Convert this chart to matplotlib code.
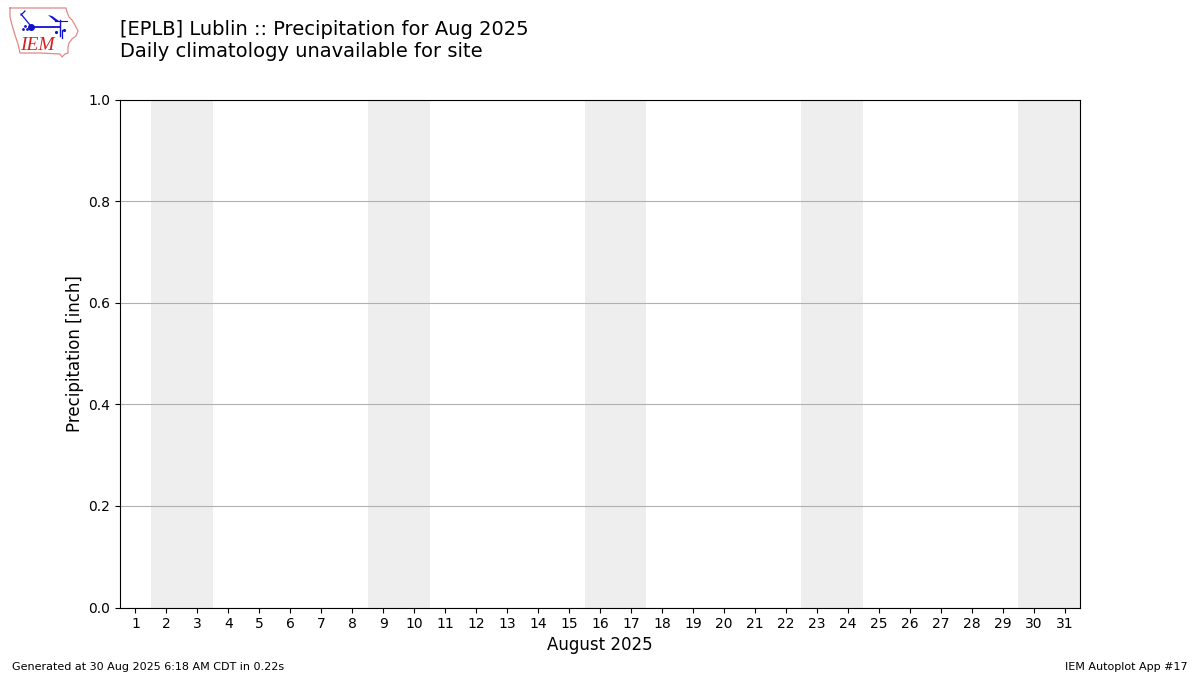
from matplotlib import pyplot as plt
import numpy as np

# --- Chart data ---
days = list(range(1, 32))
weekend_starts = [2, 9, 16, 23, 30]
y_ticks = [0.0, 0.2, 0.4, 0.6, 0.8, 1.0]
title_text = "[EPLB] Lublin :: Precipitation for Aug 2025\nDaily climatology unavailable for site"
footer_left = "Generated at 30 Aug 2025 6:18 AM CDT in 0.22s"
footer_right = "IEM Autoplot App #17"

# --- Logo outline, in pixels of the 130x70 corner ---
logo_state_x = [10, 38, 66, 67, 69, 72, 75, 78, 76, 72, 69, 68, 68, 65, 62, 60, 40, 20, 18, 15, 12, 10, 10]
logo_state_y = [8, 8, 8, 12, 17, 20, 25, 31, 36, 39, 43, 47, 53, 54, 57, 54, 53, 53, 44, 35, 25, 17, 8]


def draw_logo(fig):
    """Small IEM logo drawn on its own axes in pixel coordinates."""
    ax = fig.add_axes([0, 1 - 70 / 675, 130 / 1200, 70 / 675])
    ax.set_xlim(0, 130)
    ax.set_ylim(70, 0)
    ax.axis('off')
    blue = '#1010d0'
    ax.plot(logo_state_x, logo_state_y, color='#e08a8a', lw=0.9)
    ax.plot([31, 60], [27, 27], color=blue, lw=1.3)
    ax.plot([60, 60], [20, 36], color=blue, lw=1.0)
    ax.plot([55, 67], [20.5, 20.5], color=blue, lw=0.8)
    ax.fill([48, 52, 59, 55], [15, 16, 21, 21], color=blue, lw=0)
    ax.plot([21, 30], [14, 25], color=blue, lw=0.9)
    ax.plot([21, 25], [15, 11], color=blue, lw=0.9)
    ax.plot([31], [27], 'o', color=blue, ms=4)
    ax.plot([23, 25, 27], [29, 26, 29], ls='none', marker='.', color=blue, ms=2)
    ax.plot([56, 64], [32, 30], ls='none', marker='.', color=blue, ms=2.5)
    ax.plot([62, 62], [30, 38], color=blue, lw=0.9)
    ax.text(20.5, 46, "IEM", family='Liberation Serif', style='italic', color='#d42020',
            fontsize=14, va='center', ha='left')


if __name__ == "__main__":
    fig = plt.figure(figsize=(12, 6.75), dpi=100)
    ax = fig.add_axes([0.1, 67.5 / 675, 0.8, 507.6 / 675])

    for start in weekend_starts:
        ax.axvspan(start - 0.5, start + 1.5, color='#eeeeee', lw=0, zorder=0)

    ax.set_xlim(0.5, 31.5)
    ax.set_ylim(0, 1)
    ax.set_xticks(days)
    ax.set_yticks(y_ticks)
    ax.grid(True, axis='y', color='#b0b0b0', lw=0.8)
    ax.set_axisbelow(True)
    ax.set_xlabel("August 2025", fontsize=12, labelpad=3.5)
    ax.set_ylabel("Precipitation [inch]", fontsize=12, labelpad=3)

    fig.text(0.1, 1 - 40.5 / 675, title_text, fontsize=14, va='center', ha='left')
    fig.text(12 / 1200, 1 - 666.5 / 675, footer_left, fontsize=8, va='center', ha='left')
    fig.text(1188 / 1200, 1 - 666.5 / 675, footer_right, fontsize=8, va='center', ha='right')

    draw_logo(fig)

    fig.savefig('out.png', dpi=100)
